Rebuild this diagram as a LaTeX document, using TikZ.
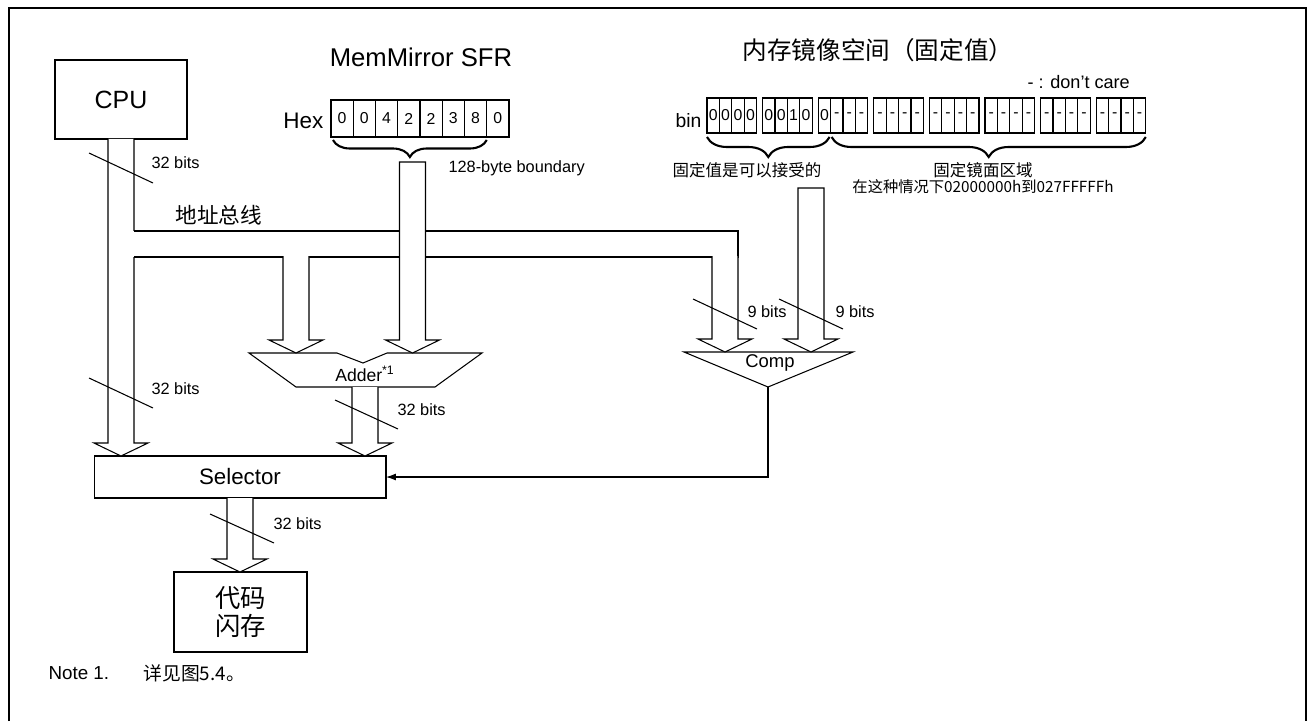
\documentclass[tikz,border=0pt]{standalone}
\usepackage{fontspec}
\setmainfont{Liberation Sans}
\newfontfamily\cjk{Noto Sans CJK SC}
\usetikzlibrary{arrows.meta,calc,decorations.pathreplacing}

% hollow bus arrow: start, tip, optional closing of the top
\newcommand{\busarrow}[3]{%
  \path[bus] let \p1=#1, \p2=#2 in
    (\x1-0.26cm,\y1) -- (\x1-0.26cm,\y2+0.26cm) -- (\x1-0.54cm,\y2+0.26cm) -- (\x1,\y2)
    -- (\x1+0.54cm,\y2+0.26cm) -- (\x1+0.26cm,\y2+0.26cm) -- (\x1+0.26cm,\y1) #3;}

\begin{document}
\begin{tikzpicture}[x=0.02cm,y=-0.02cm,
  line width=0.6pt,
  box/.style={draw,inner sep=0pt,outer sep=0pt},
  bus/.style={draw,fill=white},
  slash/.style={line width=0.6pt},
  bits/.style={anchor=west,inner sep=0pt,font=\fontsize{9.3}{11}\selectfont},
  cell/.style={draw,inner sep=0pt,outer sep=0pt,minimum width=0.445cm,minimum height=0.74cm,font=\fontsize{9}{10}\selectfont},
  bcell/.style={draw,inner sep=0pt,outer sep=0pt,minimum width=0.248cm,minimum height=0.7cm,font=\fontsize{9}{10}\selectfont},
  brc/.style={decorate,decoration={brace,mirror,amplitude=#1},line width=1.2pt},
  note/.style={inner sep=0pt,font=\cjk\fontsize{9.4}{9.3}\selectfont}
]
  \useasboundingbox (0,0) rectangle (1315,721);
  \draw[line width=1.4pt] (9,721) -- (9,8) -- (1306,8) -- (1306,721);

  \node[box,minimum width=2.64cm,minimum height=1.58cm,font=\fontsize{14.2}{16}\selectfont] (cpu) at (121,99.5) {CPU};
  \node[box,minimum width=5.84cm,minimum height=0.84cm,font=\fontsize{12.7}{15}\selectfont] (sel) at (240,477) {Selector};
  \node[box,minimum width=2.66cm,minimum height=1.6cm,align=center,font=\cjk\fontsize{14.4}{16.5}\selectfont] (flash) at (240.5,612) {代码\\闪存};

  % MemMirror SFR
  \node[font=\fontsize{14.6}{17}\selectfont] (mmtitle) at (421,57) {MemMirror SFR};
  \node[anchor=east,inner sep=0pt,font=\fontsize{12.8}{15}\selectfont] (hex) at (324,121) {Hex};
  \foreach \d [count=\i] in {0,0,4,2,2,3,8,0}
    \node[cell] (h\i) at ({331+22.25*(\i-0.5)},118.5) {\d};
  \draw[brc=0.34cm] ($(h1.south west)+(2,3)$) -- ($(h7.south east)+(0,3)$);
  \coordinate (mmtop) at (412.5,162);
  \node[bits] (bound) at (448,168) {128-byte boundary};

  % fixed mirror space
  \node[font=\cjk\fontsize{14}{17}\selectfont] (fxtitle) at (878,50) {内存镜像空间（固定值）};
  \node[anchor=west,inner sep=0pt,font=\fontsize{10.3}{12}\selectfont] (dc) at (1027,82) {- : don’t care};
  \node[anchor=east,inner sep=0pt,font=\fontsize{11}{13}\selectfont] (bin) at (702,121) {bin};
  \foreach \grp [count=\g from 0] in {{0,0,0,0},{0,0,1,0},{0,-,-,-},{-,-,-,-},{-,-,-,-},{-,-,-,-},{-,-,-,-},{-,-,-,-}}
    \foreach \b [count=\c from 0] in \grp
      \node[bcell] (b\g-\c) at ({707+55.6*\g+12.4*(\c+0.5)},115.5) {\b};
  \draw[brc=0.4cm] ($(b0-0.south west)+(0,4)$) -- ($(b2-0.south east)+(-1,4)$);
  \draw[brc=0.4cm] ($(b2-1.south west)+(1,4)$) -- ($(b7-3.south east)+(0,4)$);
  \node[note] (fixok) at (747,170) {固定值是可以接受的};
  \node[note,align=center] (fixarea) at (983,178) {固定镜面区域\\{\fontsize{8.7}{9.3}\selectfont 在这种情况下02000000h到027FFFFFh}};
  \coordinate (fxtop) at (811,188);

  % adder and comparator
  \draw (249,353) -- (337,353) -- (363,363) -- (387,353) -- (482,353) -- (435,387) -- (296,387) -- cycle;
  \node[font=\fontsize{10}{12}\selectfont] (adder) at (365,374) {Adder\textsuperscript{*1}};
  \coordinate (addin1) at (296,353);
  \coordinate (addin2) at (413,353);
  \coordinate (addout) at (365,387);
  \draw (684,352) -- (853,352) -- (768,387) -- cycle;
  \node[font=\fontsize{10.5}{12}\selectfont] (comp) at (770,363) {Comp};
  \coordinate (cmpin1) at (725,352);
  \coordinate (cmpin2) at (811,352);
  \coordinate (cmpout) at (768,387);

  % buses
  \busarrow{(cpu.south)}{(cpu.south |- sel.north)}{}
  \fill[white] (133,231) rectangle (738,257);
  \draw (134,231) -- (738,231) -- (738,257) -- (134,257);
  \node[anchor=west,inner sep=0pt,font=\cjk\fontsize{12.3}{14}\selectfont] (abus) at (175,215) {地址总线};
  \coordinate (busA) at (296,256);
  \coordinate (busB) at (725,256);
  \busarrow{(busA)}{(addin1)}{}
  \busarrow{(busB)}{(cmpin1)}{}
  \busarrow{(mmtop)}{(addin2)}{-- cycle}
  \busarrow{(fxtop)}{(cmpin2)}{-- cycle}
  \busarrow{(addout)}{(addout |- sel.north)}{}
  \busarrow{(sel.south)}{(flash.north)}{}
  \draw[-{Latex[length=0.2cm,width=0.14cm]}] (cmpout) |- (sel.east);

  % bus widths
  \draw[slash] (89,153) -- (153,183);
  \node[bits] (w1) at (151,163) {32 bits};
  \draw[slash] (89,378) -- (153,408);
  \node[bits] (w2) at (151,389) {32 bits};
  \draw[slash] (335,400) -- (398,429);
  \node[bits] (w3) at (397,410) {32 bits};
  \draw[slash] (210,514) -- (274,543);
  \node[bits] (w4) at (273,524) {32 bits};
  \draw[slash] (693,299) -- (757,329);
  \node[bits] (w5) at (747,312) {9 bits};
  \draw[slash] (779,299) -- (843,329);
  \node[bits] (w6) at (835,312) {9 bits};

  \node[anchor=west,inner sep=0pt,font=\fontsize{10.7}{12}\selectfont] (note1) at (48,673) {Note 1.};
  \node[note,anchor=west,font=\cjk\fontsize{10.7}{12}\selectfont] (notetxt) at (143,673) {详见图5.4。};
\end{tikzpicture}
\end{document}
